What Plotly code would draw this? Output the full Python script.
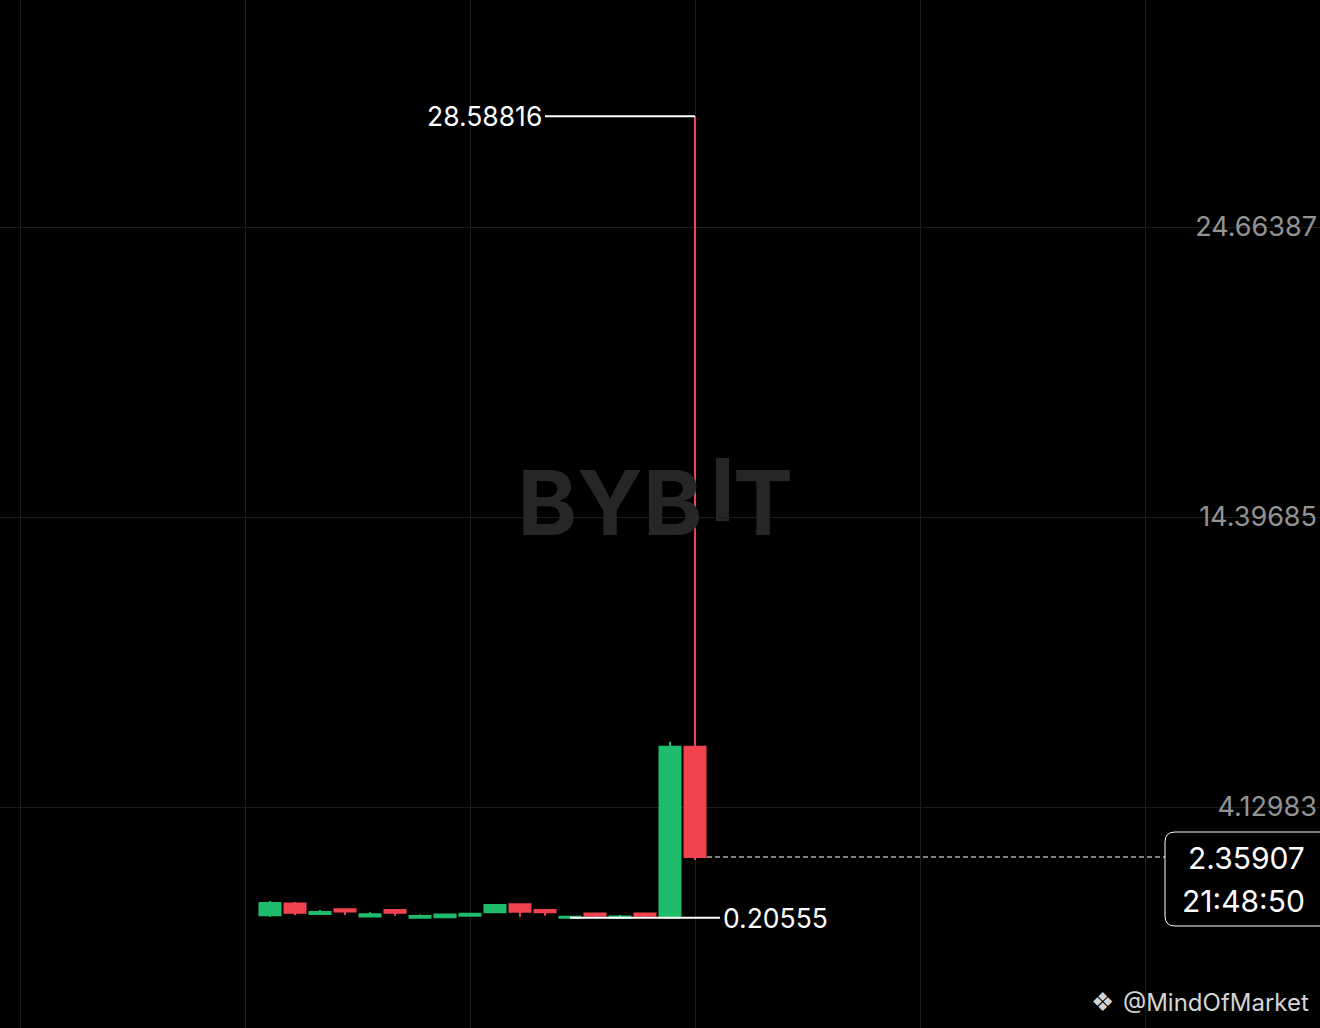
import plotly.graph_objects as go

# ---------------- data ----------------
candle_index = list(range(18))
opens  = [0.30, 0.71, 0.34, 0.51, 0.25, 0.48, 0.21, 0.23, 0.28, 0.40, 0.69, 0.48, 0.20555, 0.36, 0.21, 0.36, 0.22, 6.26]
highs  = [0.80, 0.77, 0.48, 0.52, 0.40, 0.51, 0.32, 0.36, 0.37, 0.70, 0.70, 0.49, 0.27, 0.37, 0.31, 0.37, 6.44, 28.58816]
lows   = [0.24, 0.30, 0.33, 0.31, 0.24, 0.28, 0.21, 0.22, 0.27, 0.39, 0.24, 0.28, 0.20555, 0.22, 0.21, 0.21, 0.21, 2.25]
closes = [0.73, 0.39, 0.41, 0.43, 0.33, 0.39, 0.27, 0.32, 0.35, 0.66, 0.42, 0.40, 0.24, 0.28, 0.25, 0.28, 6.26, 2.35907]
y_ticks = [4.12983, 14.39685, 24.66387]
last_price_label = "2.35907"
countdown_label = "21:48:50"
watermark_text = "BYB"
watermark_tail = "T"
credit_text = "@MindOfMarket"

# ---------------- layout geometry ----------------
W, H = 1320, 1028
X0_PX, STEP_PX = 270.0, 25.0          # pixel of candle 0, pixels per candle
TICK0_PY, TICK_STEP_PY = 807.0, 290.0  # pixel of first y tick, pixels between ticks
per_px = (y_ticks[1] - y_ticks[0]) / TICK_STEP_PY

def px_x(px):
    return (px - X0_PX) / STEP_PX

def py_y(py):
    return y_ticks[0] + (TICK0_PY - py) * per_px

x_range = [px_x(0), px_x(W)]
y_range = [py_y(H), py_y(0)]

GREEN = "#1fbd6b"
RED = "#f0434f"
GRID = "#1d1d1d"
FONT = "Inter"

fig = go.Figure()

# watermark (drawn first so it sits beneath the candles)
fig.add_trace(go.Scatter(
    x=[px_x(610), px_x(763)], y=[py_y(512), py_y(512)],
    mode="text", text=[watermark_text, watermark_tail],
    textfont=dict(family=FONT, size=90, color="#262626", weight=700),
    hoverinfo="skip", cliponaxis=False))

fig.add_trace(go.Candlestick(
    x=candle_index, open=opens, high=highs, low=lows, close=closes,
    increasing=dict(line=dict(color=GREEN, width=2), fillcolor=GREEN),
    decreasing=dict(line=dict(color=RED, width=2), fillcolor=RED),
    whiskerwidth=0, hoverinfo="skip"))

# extreme markers
hi = max(highs)
hi_i = highs.index(hi)
lo = min(lows)
lo_i = lows.index(lo)
OFF = 6
fig.add_trace(go.Scatter(x=[candle_index[hi_i] - OFF, candle_index[hi_i]], y=[hi, hi],
                         mode="lines", line=dict(color="white", width=2), hoverinfo="skip"))
fig.add_trace(go.Scatter(x=[candle_index[lo_i], candle_index[lo_i] + OFF], y=[lo, lo],
                         mode="lines", line=dict(color="white", width=2), hoverinfo="skip"))

# last price dashed line
last = closes[-1]
fig.add_trace(go.Scatter(x=[candle_index[-1] + 0.48, px_x(1165)], y=[last, last],
                         mode="lines", line=dict(color="white", width=1.2, dash="5px,3px"),
                         hoverinfo="skip"))

annotations = [
    dict(x=candle_index[hi_i] - OFF, y=hi, xref="x", yref="y", text=f"{hi:.5f}",
         xanchor="right", yanchor="middle", xshift=-1, showarrow=False,
         font=dict(family=FONT, size=26.5, color="white")),
    dict(x=candle_index[lo_i] + OFF, y=lo, xref="x", yref="y", text=f"{lo:.5f}",
         xanchor="left", yanchor="middle", xshift=1, showarrow=False,
         font=dict(family=FONT, size=26.5, color="white")),
    dict(x=1307 / W, y=1 - 858 / H, xref="paper", yref="paper", text=last_price_label,
         xanchor="right", yanchor="middle", showarrow=False,
         font=dict(family=FONT, size=30, color="white")),
    dict(x=1307 / W, y=1 - 901 / H, xref="paper", yref="paper", text=countdown_label,
         xanchor="right", yanchor="middle", showarrow=False,
         font=dict(family=FONT, size=30, color="white")),
    dict(x=1311 / W, y=1 - 1002 / H, xref="paper", yref="paper", text=credit_text,
         xanchor="right", yanchor="middle", showarrow=False,
         font=dict(family=FONT, size=24, color="#d4d4d4")),
    dict(x=1102 / W, y=1 - 1002 / H, xref="paper", yref="paper", text="❖",
         xanchor="center", yanchor="middle", showarrow=False,
         font=dict(family="DejaVu Sans", size=26, color="#d4d4d4")),
]

# rounded price box
bx0, bx1 = 1165 / W, 1335 / W
byt, byb = 1 - 832 / H, 1 - 926 / H
rx, ry = 10 / W, 10 / H
box_path = (f"M {bx0 + rx},{byt} L {bx1},{byt} L {bx1},{byb} L {bx0 + rx},{byb} "
            f"Q {bx0},{byb} {bx0},{byb + ry} L {bx0},{byt - ry} Q {bx0},{byt} {bx0 + rx},{byt} Z")
shapes = [
    dict(type="path", xref="paper", yref="paper", path=box_path,
         fillcolor="black", line=dict(color="white", width=1)),
    # raised bar of the watermark "I"
    dict(type="rect", xref="x", yref="y", x0=px_x(716), x1=px_x(729), y0=py_y(521), y1=py_y(458),
         fillcolor="#262626", line=dict(width=0), layer="below"),
]

fig.update_layout(
    width=W, height=H, margin=dict(l=0, r=0, t=0, b=0),
    paper_bgcolor="black", plot_bgcolor="black", showlegend=False,
    boxgap=0.16, boxgroupgap=0,
    annotations=annotations, shapes=shapes,
    xaxis=dict(range=x_range, tick0=-1, dtick=9, showgrid=True, gridcolor=GRID, gridwidth=1,
               showticklabels=False, zeroline=False, showline=False, ticks="",
               rangeslider=dict(visible=False), fixedrange=True),
    yaxis=dict(range=y_range, tickvals=y_ticks, ticktext=[f"{v:.5f}" for v in y_ticks],
               side="right", ticklabelposition="inside", showgrid=True, gridcolor=GRID,
               gridwidth=1, zeroline=False, showline=False, ticks="",
               tickfont=dict(family=FONT, size=27, color="#939393"), fixedrange=True),
)

fig.write_html(
    "out.html",
    config={"displayModeBar": False},
    post_script="document.body.style.margin='0';document.body.style.background='black';",
)
